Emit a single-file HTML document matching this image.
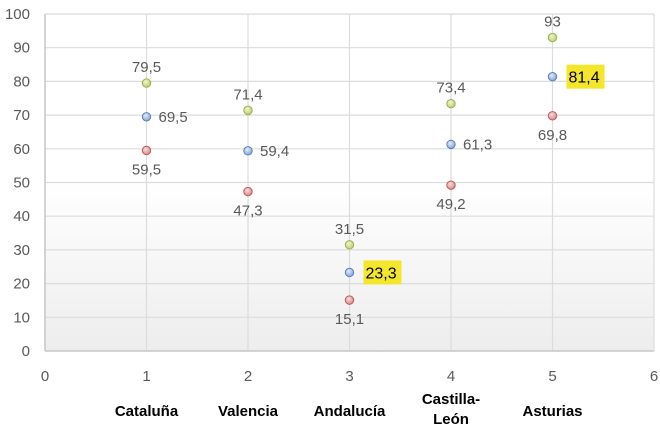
<!DOCTYPE html>
<html><head><meta charset="utf-8"><style>
body{margin:0;background:#fff;}
svg{display:block;font-family:"Liberation Sans",sans-serif;}
</style></head><body>
<svg width="660" height="433">
<defs>
<linearGradient id="bg" x1="0" y1="0" x2="0" y2="1">
<stop offset="0" stop-color="#fff"/><stop offset="0.5" stop-color="#fff"/><stop offset="1" stop-color="#ededed"/>
</linearGradient>
<radialGradient id="gG" cx="0.4" cy="0.35" r="0.7"><stop offset="0" stop-color="#eef5cf"/><stop offset="1" stop-color="#b8cc6a"/></radialGradient>
<radialGradient id="gB" cx="0.4" cy="0.35" r="0.7"><stop offset="0" stop-color="#e3ebf7"/><stop offset="1" stop-color="#7f9fd6"/></radialGradient>
<radialGradient id="gR" cx="0.4" cy="0.35" r="0.7"><stop offset="0" stop-color="#f7e0e0"/><stop offset="1" stop-color="#d88080"/></radialGradient>
</defs>
<g id="chart"></g>
</svg>
<script>
const categories=["Cataluña","Valencia","Andalucía","Castilla-\nLeón","Asturias"];
const greenValues=[79.5,71.4,31.5,73.4,93];
const blueValues=[69.5,59.4,23.3,61.3,81.4];
const redValues=[59.5,47.3,15.1,49.2,69.8];
const highlighted=[false,false,true,false,true];
const yTicks=[0,10,20,30,40,50,60,70,80,90,100];
const xTicks=[0,1,2,3,4,5,6];
const L=45,R=654,T=14,B=351;
const xs=v=>L+(R-L)*v/6, ys=v=>B-(B-T)*v/100;
const g=document.getElementById('chart');
const NS="http://www.w3.org/2000/svg";
function mk(t,a,p){const e=document.createElementNS(NS,t);for(const k in a)e.setAttribute(k,a[k]);(p||g).appendChild(e);return e;}
const fmt=v=>String(v).replace('.',',');
let bg=mk('rect',{x:L,y:T,width:R-L,height:B-T,fill:'url(#bg)'});

yTicks.forEach(v=>{
 let l=mk('line',{x1:L,x2:R,y1:ys(v),y2:ys(v),stroke:'#dcdcdc','stroke-width':1.2});
 
 let t=mk('text',{x:L-15,y:ys(v)+5,'text-anchor':'end','font-size':15,fill:'#595959'});t.textContent=v;
 
});
xTicks.forEach(v=>{
 let l=mk('line',{x1:xs(v),x2:xs(v),y1:T,y2:B,stroke:'#dcdcdc','stroke-width':1.2});
 
 let t=mk('text',{x:xs(v),y:381,'text-anchor':'middle','font-size':15,fill:'#595959'});t.textContent=v;
 
});
let ax=mk('line',{x1:L,x2:R,y1:B,y2:B,stroke:'#c8c8c8','stroke-width':1.5});

let ay=mk('line',{x1:L,x2:L,y1:T,y2:B,stroke:'#c8c8c8','stroke-width':1.5});

categories.forEach((c,i)=>{
 const x=xs(i+1);const lines=c.split('\n');
 lines.forEach((s,j)=>{
  let t=mk('text',{x:x,y:(lines.length>1?404:416)+j*20,'text-anchor':'middle','font-size':15,'font-weight':'bold',fill:'#000'});t.textContent=s;
  
 });
});
function dot(x,y,fill,stroke){let c=mk('circle',{cx:x,cy:y,r:4.2,fill:fill,stroke:stroke,'stroke-width':1});
 }
categories.forEach((c,i)=>{
 const x=xs(i+1);
 dot(x,ys(greenValues[i]),'url(#gG)','#9bb04a');
 let t=mk('text',{x:x,y:ys(greenValues[i])-11,'text-anchor':'middle','font-size':15,fill:'#595959'});t.textContent=fmt(greenValues[i]);
 
 dot(x,ys(blueValues[i]),'url(#gB)','#5b7fc0');
 const by=ys(blueValues[i]);
 if(highlighted[i]){
  let r=mk('rect',{x:x+14,y:by-12,width:38,height:24,fill:'#f3e62b'});
  
  let t2=mk('text',{x:x+16,y:by+6,'font-size':16,fill:'#000'});t2.textContent=fmt(blueValues[i]);
  
 } else {
  let t2=mk('text',{x:x+12,y:by+5,'font-size':15,fill:'#595959'});t2.textContent=fmt(blueValues[i]);
  
 }
 dot(x,ys(redValues[i]),'url(#gR)','#c05858');
 let t3=mk('text',{x:x,y:ys(redValues[i])+24,'text-anchor':'middle','font-size':15,fill:'#595959'});t3.textContent=fmt(redValues[i]);
 
});
</script>
</body></html>
